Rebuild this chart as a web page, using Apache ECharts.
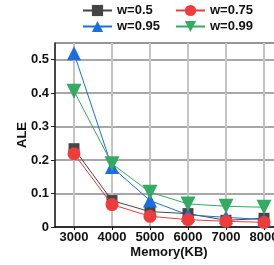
<!DOCTYPE html>
<html>
<head>
    <meta charset="utf-8">
    <title>ALE vs Memory</title>
    <script src="https://cdn.jsdelivr.net/npm/echarts@6/dist/echarts.min.js"></script>
</head>
<body style="margin:0">
    <div id="main" style="width:274px;height:265px;"></div>
    <script type="text/javascript">
// memory sizes (KB)
var memory = ['3000', '4000', '5000', '6000', '7000', '8000'];
var seriesNames = ['w=0.5', 'w=0.75', 'w=0.95', 'w=0.99'];
// ALE per w
var w05  = [0.234, 0.079, 0.046, 0.040, 0.020, 0.026];
var w075 = [0.219, 0.067, 0.032, 0.022, 0.017, 0.014];
var w095 = [0.519, 0.179, 0.079, 0.036, 0.029, 0.022];
var w099 = [0.406, 0.189, 0.104, 0.069, 0.062, 0.059];
var yTicks = [0, 0.1, 0.2, 0.3, 0.4, 0.5];

var chart = echarts.init(document.getElementById('main'));
var font = 'Liberation Sans, Arial, sans-serif';

var styles = [
    {data: w05,  color: '#454545', symbol: 'rect', size: 11},
    {data: w075, color: '#ee3b3b', symbol: 'circle', size: 13},
    {data: w095, color: '#1b6ee0', symbol: 'triangle', size: 14},
    {data: w099, color: '#35aa62', symbol: 'path://M0,0 L10,0 L5,9 Z', size: 15}
];

var series = seriesNames.map(function (name, i) {
    var s = styles[i];
    return {
        name: name,
        type: 'line',
        data: s.data,
        symbol: s.symbol,
        symbolSize: s.size,
        showAllSymbol: true,
        itemStyle: {color: s.color},
        lineStyle: {color: s.color, width: 1},
        z: 3 + (i === 1 ? 1 : 0)
    };
});

// one legend per item so the two columns line up
var legendPos = [[82, 4], [175, 4], [82, 20], [175, 20]];
var legends = seriesNames.map(function (name, i) {
    return {
        data: [name],
        left: legendPos[i][0],
        top: legendPos[i][1],
        padding: 0,
        itemWidth: 29,
        itemHeight: 14,
        itemGap: 4,
        textStyle: {fontFamily: font, fontWeight: 'bold', fontSize: 13, color: '#111'}
    };
});

chart.setOption({
    animation: false,
    backgroundColor: '#fff',
    legend: legends,
    grid: {
        left: 55, top: 43, right: -9, bottom: 38,
        outerBoundsMode: 'none',
        show: true, borderColor: '#777', borderWidth: 1
    },
    xAxis: {
        type: 'category',
        data: memory,
        boundaryGap: true,
        name: 'Memory(KB)',
        nameLocation: 'middle',
        nameGap: 19,
        nameMoveOverlap: false,
        nameTextStyle: {fontFamily: font, fontWeight: 'bold', fontSize: 13, color: '#111'},
        axisLine: {lineStyle: {color: '#111', width: 1.5}},
        axisTick: {show: true, alignWithLabel: true, inside: false, length: 3, lineStyle: {color: '#111'}},
        axisLabel: {fontFamily: font, fontWeight: 'bold', fontSize: 13, color: '#111', margin: 4},
        splitLine: {show: true, alignWithLabel: true, lineStyle: {color: '#c4c4c4', width: 2}}
    },
    yAxis: {
        type: 'value',
        min: 0,
        max: 0.55,
        interval: 0.1,
        name: 'ALE',
        nameLocation: 'middle',
        nameGap: 26,
        nameMoveOverlap: false,
        nameTextStyle: {fontFamily: font, fontWeight: 'bold', fontSize: 13, color: '#111'},
        axisLine: {show: true, lineStyle: {color: '#222', width: 1.5}},
        axisTick: {show: true, length: 4, lineStyle: {color: '#222'}},
        axisLabel: {
            fontFamily: font, fontWeight: 'bold', fontSize: 13, color: '#111', margin: 6,
            showMaxLabel: false,
            formatter: function (v) {
                return yTicks.indexOf(Math.round(v * 10) / 10) >= 0 ? String(Math.round(v * 10) / 10) : '';
            }
        },
        splitLine: {show: true, lineStyle: {color: '#8a8a8a', width: 1.5}}
    },
    series: series
});
    </script>
</body>
</html>
